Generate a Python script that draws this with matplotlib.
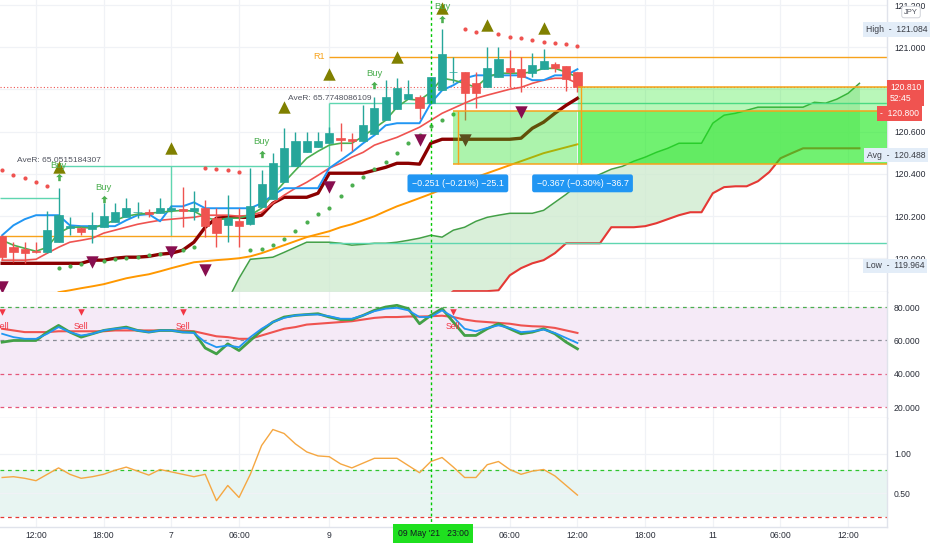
import matplotlib
matplotlib.use('Agg')
import matplotlib.pyplot as plt
import numpy as np
from matplotlib.patches import Rectangle
from matplotlib.transforms import blended_transform_factory as btf

plt.rcParams['font.family'] = ['Liberation Sans', 'DejaVu Sans']

# ---------------- data ----------------
bar_idx = list(range(-3, 49))
open_ = [120.104, 120.052, 120.043, 120.033, 120.028, 120.076, 120.142, 120.142, 120.137, 120.147,
         120.171, 120.194, 120.218, 120.218, 120.213, 120.227, 120.232, 120.223, 120.237, 120.190,
         120.156, 120.175, 120.161, 120.242, 120.280, 120.360, 120.436, 120.502, 120.526, 120.545,
         120.569, 120.564, 120.555, 120.588, 120.654, 120.706, 120.754, 120.763, 120.735, 120.796,
         120.882, 120.882, 120.829, 120.810, 120.858, 120.900, 120.896, 120.877, 120.896, 120.919,
         120.910, 120.882]
high = [120.110, 120.076, 120.076, 120.076, 120.223, 120.332, 120.194, 120.147, 120.218, 120.261,
        120.261, 120.284, 120.265, 120.232, 120.284, 120.250, 120.337, 120.318, 120.275, 120.237,
        120.299, 120.237, 120.427, 120.417, 120.498, 120.616, 120.597, 120.597, 120.597, 120.621,
        120.640, 120.592, 120.725, 120.763, 120.844, 120.853, 120.844, 120.773, 120.860, 121.085,
        120.953, 120.885, 120.882, 121.000, 121.000, 120.986, 120.953, 120.972, 120.990, 120.929,
        120.910, 120.882]
low = [119.991, 119.981, 119.976, 120.024, 120.024, 120.076, 120.109, 120.109, 120.071, 120.147,
       120.171, 120.194, 120.190, 120.194, 120.213, 120.220, 120.147, 120.180, 120.100, 120.052,
       120.076, 120.052, 120.156, 120.242, 120.280, 120.360, 120.436, 120.502, 120.526, 120.545,
       120.507, 120.507, 120.555, 120.588, 120.654, 120.706, 120.754, 120.659, 120.730, 120.796,
       120.829, 120.654, 120.711, 120.810, 120.858, 120.810, 120.787, 120.858, 120.896, 120.882,
       120.791, 120.787]
close = [120.005, 120.028, 120.024, 120.028, 120.133, 120.204, 120.152, 120.123, 120.156, 120.199,
         120.218, 120.237, 120.220, 120.209, 120.237, 120.237, 120.223, 120.237, 120.152, 120.119,
         120.190, 120.152, 120.246, 120.351, 120.450, 120.521, 120.555, 120.555, 120.555, 120.592,
         120.559, 120.555, 120.630, 120.711, 120.763, 120.806, 120.777, 120.711, 120.858, 120.967,
         120.884, 120.782, 120.782, 120.900, 120.943, 120.882, 120.858, 120.915, 120.934, 120.900,
         120.848, 120.810]

blue_line = [120.109, 120.156, 120.185, 120.204, 120.204, 120.204, 120.156, 120.152, 120.152, 120.152,
             120.152, 120.180, 120.204, 120.209, 120.175, 120.246, 120.246, 120.265, 120.237, 120.237,
             120.237, 120.237, 120.237, 120.261, 120.299, 120.332, 120.332, 120.332, 120.332, 120.427,
             120.464, 120.502, 120.545, 120.583, 120.630, 120.640, 120.640, 120.640, 120.735, 120.796,
             120.820, 120.853, 120.867, 120.867, 120.867, 120.867, 120.867, 120.844, 120.844, 120.867,
             120.867, 120.896]
red_line = [119.991, 119.991, 119.991, 119.995, 120.024, 120.052, 120.076, 120.085, 120.095, 120.119,
            120.133, 120.147, 120.161, 120.171, 120.180, 120.185, 120.190, 120.194, 120.204, 120.204,
            120.204, 120.199, 120.204, 120.218, 120.261, 120.299, 120.332, 120.360, 120.393, 120.427,
            120.450, 120.479, 120.502, 120.536, 120.555, 120.573, 120.597, 120.621, 120.654, 120.687,
            120.711, 120.735, 120.758, 120.773, 120.787, 120.801, 120.810, 120.829, 120.844, 120.853,
            120.853, 120.829]
green_line = [120.085, 120.062, 120.047, 120.033, 120.052, 120.119, 120.147, 120.147, 120.142, 120.161,
              120.180, 120.199, 120.209, 120.213, 120.218, 120.223, 120.227, 120.223, 120.194, 120.180,
              120.190, 120.190, 120.204, 120.237, 120.299, 120.360, 120.417, 120.474, 120.507, 120.536,
              120.545, 120.545, 120.578, 120.616, 120.654, 120.716, 120.754, 120.749, 120.787, 120.853,
              120.844, 120.829, 120.810, 120.858, 120.877, 120.877, 120.877, 120.882, 120.900, 120.900,
              120.882, 120.858]
base_line = [119.976] * 8 + [119.991, 119.991, 120.000, 120.005, 120.005, 120.009, 120.019, 120.024,
             120.038, 120.076, 120.147, 120.190, 120.194, 120.194, 120.194, 120.204, 120.261, 120.289,
             120.289, 120.289, 120.308, 120.403, 120.403, 120.403, 120.403, 120.417, 120.431, 120.450,
             120.450, 120.446, 120.545, 120.564] + [120.564] * 6 + [120.569, 120.616, 120.645, 120.687,
             120.725, 120.758]
orange_idx = list(range(2, 49))
orange_line = [119.839, 119.848, 119.858, 119.867, 119.877, 119.891, 119.905, 119.915, 119.924, 119.938,
               119.953, 119.967, 119.981, 119.986, 119.991, 119.995, 120.000, 120.009, 120.024, 120.043,
               120.062, 120.081, 120.100, 120.114, 120.128, 120.147, 120.161, 120.180, 120.199, 120.223,
               120.246, 120.265, 120.285, 120.305, 120.327, 120.346, 120.365, 120.384, 120.403, 120.422,
               120.441, 120.460, 120.479, 120.498, 120.512, 120.526, 120.540]

cloud_idx = list(range(17, 74))
span_a = [119.800, 119.905, 119.995, 120.000, 120.005, 120.028, 120.052, 120.076, 120.076, 120.076,
          120.071, 120.062, 120.066, 120.071, 120.071, 120.076, 120.085, 120.095, 120.109, 120.100,
          120.133, 120.147, 120.175, 120.194, 120.204, 120.213, 120.213, 120.213, 120.227, 120.265,
          120.303, 120.346, 120.374, 120.398, 120.422, 120.436, 120.460, 120.479, 120.502, 120.521,
          120.545, 120.545, 120.545, 120.640, 120.678, 120.687, 120.701, 120.716, 120.716, 120.716,
          120.716, 120.716, 120.739, 120.735, 120.754, 120.782, 120.829]
span_b = [119.800] * 20 + [119.844] * 4 + [119.848, 119.919, 119.953, 119.976, 119.991, 120.024,
          120.071, 120.071, 120.071, 120.071, 120.147, 120.147, 120.147, 120.152, 120.166, 120.185,
          120.204, 120.218, 120.218, 120.308, 120.337, 120.341, 120.341, 120.365, 120.408, 120.474,
          120.498, 120.521] + [120.521] * 5

sar_red_idx = [-3, -2, -1, 0, 1, 15, 16, 17, 18, 38, 39, 41, 42, 43, 44, 45, 46, 47, 48]
sar_red = [120.417, 120.393, 120.379, 120.360, 120.341, 120.427, 120.422, 120.417, 120.408,
           121.085, 121.071, 121.062, 121.047, 121.043, 121.033, 121.024, 121.019, 121.014, 121.005]
sar_green_idx = list(range(2, 15)) + list(range(19, 38))
sar_green = [119.953, 119.962, 119.972, 119.976, 119.986, 119.995, 120.000, 120.005, 120.014, 120.019,
             120.028, 120.038, 120.052, 120.038, 120.043, 120.062, 120.090, 120.128, 120.171, 120.209,
             120.237, 120.294, 120.346, 120.384, 120.422, 120.455, 120.498, 120.545, 120.583, 120.626,
             120.654, 120.682]

up_tri_idx = [2, 12, 22, 26, 32, 36, 40, 45]
up_tri_val = [120.431, 120.521, 120.716, 120.872, 120.953, 121.185, 121.104, 121.090]
dn_tri_idx = [-3, 5, 12, 15, 26, 34, 43]
dn_tri_val = [119.863, 119.981, 120.028, 119.943, 120.337, 120.559, 120.692]
dn_olive_idx = [38]
dn_olive_val = [120.559]
buy_idx = [2, 6, 20, 30, 36]
buy_text_val = [120.441, 120.337, 120.555, 120.877, 121.194]
buy_arrow_val = [120.384, 120.280, 120.493, 120.820, 121.133]

# oscillator panel
osc_green = [59, 60, 60, 60, 65, 69, 65, 62, 64, 66, 67, 68, 66, 65, 66, 66, 65, 65, 55.5, 52,
             58, 54, 60, 66, 71, 74, 75, 75.5, 76, 74, 72.5, 72.5, 75, 78, 80, 81, 79, 70, 75, 79,
             71, 63, 63, 67, 70, 67, 64, 65, 67, 64, 59, 55]
osc_blue = [64, 62, 61, 61, 64, 68, 65, 63, 64, 66, 67, 67.5, 66, 65, 66, 66, 65, 64.5, 59, 56,
            57, 56, 62, 67, 71, 73.5, 75, 75.5, 75.5, 74.5, 73, 73, 75, 77.5, 79, 79.5, 78, 74, 74, 78,
            74, 67, 65.5, 67.5, 69, 67.5, 65, 65.5, 66.5, 64.5, 61.5, 58.5]
osc_red = [67, 66, 65, 65, 65, 65.5, 65.5, 65.5, 65.5, 65.5, 66, 66, 66, 66, 66, 66, 66, 65.5, 64, 62.5,
           62, 61, 61, 63, 65, 67, 68, 69.5, 70, 70.5, 71, 71.5, 72.5, 73.5, 74, 74, 74.3, 74.3, 74.5, 74.8,
           74, 72.5, 71.5, 71, 70.5, 70, 69, 68.5, 68.3, 67.5, 66, 64.5]
sell_idx = [-3, 4, 13, 37]
sell_tri_val = 77
sell_text_val = 68.5

# lower panel
vol_line = [0.70, 0.71, 0.69, 0.66, 0.74, 0.82, 0.74, 0.69, 0.71, 0.74, 0.79, 0.83, 0.78, 0.73, 0.80,
            0.77, 0.74, 0.71, 0.74, 0.41, 0.60, 0.45, 0.74, 1.10, 1.30, 1.25, 1.12, 1.02, 0.97, 0.96,
            0.87, 0.82, 0.88, 0.94, 0.94, 0.94, 0.85, 0.76, 0.90, 0.95, 0.83, 0.70, 0.70, 0.86, 0.90,
            0.80, 0.74, 0.78, 0.80, 0.72, 0.60, 0.48]

time_tick_idx = [0, 6, 12, 18, 26, 42, 48, 54, 60, 66, 72]
time_tick_lbl = ['12:00', '18:00', '7', '06:00', '9', '06:00', '12:00', '18:00', '11', '06:00', '12:00']
cursor_idx = 35
cursor_lbl = "09 May '21   23:00"

price_ticks = [120.0, 120.2, 120.4, 120.6, 120.8, 121.0, 121.2]
last_price = 120.810
high_val, low_val, avg_val = 121.084, 119.964, 120.488
entry_level, stop_level, target_level = 120.698, 120.445, 120.810
r1_level = 120.955
aver_levels = [120.284, 120.436, 120.735, 120.071]
orange_old_level = 120.104

# ---------------- layout ----------------
W, H = 932, 550
fig = plt.figure(figsize=(W / 100, H / 100), dpi=100)
RX = 887


def rect(x0, y0, x1, y1):
    return [x0 / W, 1 - y1 / H, (x1 - x0) / W, (y1 - y0) / H]


ax1 = fig.add_axes(rect(0, 0, RX, 292))
ax2 = fig.add_axes(rect(0, 292, RX, 418), sharex=ax1)
ax3 = fig.add_axes(rect(0, 418, RX, 527), sharex=ax1)

x_left = -36 / 11.28
x_right = (RX - 36) / 11.28
ax1.set_xlim(x_left, x_right)
ax1.set_ylim(119.840, 121.224)
ax2.set_ylim(13.7, 88.96)
ax3.set_ylim(0.081, 1.444)

sep = '#e0e3eb'
grid = '#f0f2f6'
for ax in (ax1, ax2, ax3):
    for s in ('left', 'top'):
        ax.spines[s].set_visible(False)
    for s in ('right', 'bottom'):
        ax.spines[s].set_color(sep)
        ax.spines[s].set_linewidth(1)
    ax.yaxis.tick_right()
    ax.tick_params(axis='both', length=0, labelsize=6.2, colors='#2a2e39', pad=5)
    ax.set_xticks(time_tick_idx)
    for t in time_tick_idx:
        ax.axvline(t, color=grid, lw=0.9, zorder=0)
ax1.tick_params(axis='x', labelbottom=False)
ax2.tick_params(axis='x', labelbottom=False)
ax3.set_xticklabels(time_tick_lbl)
ax3.tick_params(axis='x', pad=3)

# price axis
ax1.set_yticks(price_ticks)
ax1.set_yticklabels(['%.3f' % p if abs(p - 120.8) > 1e-6 else '' for p in price_ticks])
for p in price_ticks:
    ax1.axhline(p, color=grid, lw=0.9, zorder=0)

# ---------------- main panel ----------------
ax1.fill_between(cloud_idx, span_a, span_b, color='#cdeacd', alpha=0.75, lw=0, zorder=1)
ax1.plot(cloud_idx, span_a, color='#43a047', lw=1.1, zorder=2)
ax1.plot(cloud_idx, span_b, color='#e53935', lw=1.5, zorder=2)

teal = '#5fd6b0'
orange = '#f7a21b'
ax1.hlines(aver_levels[0], x_left, 2, color=teal, lw=1, zorder=2)
ax1.hlines(aver_levels[1], 2, 26, color=teal, lw=1, zorder=2)
ax1.vlines(12, orange_old_level, aver_levels[1], color=teal, lw=1, zorder=2)
ax1.vlines(26, aver_levels[1], aver_levels[2], color=teal, lw=1, zorder=2)
ax1.hlines(aver_levels[2], 26, x_right, color=teal, lw=1, zorder=2)
ax1.hlines(aver_levels[3], 26, x_right, color=teal, lw=1, zorder=2)
ax1.hlines(orange_old_level, x_left, 26, color=orange, lw=1, zorder=2)
ax1.hlines(r1_level, 26, x_right, color=orange, lw=1, zorder=2)
ax1.text(25.6, r1_level, 'R1', color=orange, fontsize=6.5, ha='right', va='center', zorder=6)
ax1.axhline(last_price, color='#ef5350', lw=0.8, ls=(0, (1, 2)), zorder=2)

ax1.plot(orange_idx, orange_line, color='#ff9800', lw=1.4, zorder=3)
ax1.plot(bar_idx, base_line, color='#8b0000', lw=2.4, zorder=3)
ax1.plot(bar_idx, red_line, color='#ef5350', lw=1.2, zorder=3)
ax1.plot(bar_idx, blue_line, color='#2196f3', lw=1.4, zorder=3)
ax1.plot(bar_idx, green_line, color='#4caf50', lw=1.2, zorder=3)

up_c, dn_c = '#26a69a', '#ef5350'
for i, o, h, l, c in zip(bar_idx, open_, high, low, close):
    col = up_c if c >= o else dn_c
    ax1.vlines(i, l, h, color=col, lw=1, zorder=4)
    ax1.add_patch(Rectangle((i - 0.36, min(o, c)), 0.72, max(abs(c - o), 0.003),
                            fc=col, ec=col, lw=0.5, zorder=4))

ax1.scatter(sar_red_idx, sar_red, s=9, color='#ef5350', zorder=5, lw=0)
ax1.scatter(sar_green_idx, sar_green, s=9, color='#4caf50', zorder=5, lw=0)

# position boxes
box_l1, box_r1 = 37, 48
ax1.add_patch(Rectangle((box_l1, stop_level), box_r1 - box_l1, entry_level - stop_level,
                        fc=(0.1, 0.88, 0.1, 0.36), ec='none', zorder=5))
ax1.add_patch(Rectangle((48.05, stop_level), x_right - 48.05, target_level - stop_level,
                        fc=(0.1, 0.9, 0.1, 0.30), ec='none', zorder=5))
ax1.add_patch(Rectangle((48.05, stop_level), x_right - 48.05, entry_level - stop_level,
                        fc=(0.1, 0.92, 0.1, 0.45), ec='none', zorder=5))
ax1.hlines([entry_level, stop_level], box_l1, x_right, color=orange, lw=1.1, zorder=6)
ax1.hlines(target_level, 48.05, x_right, color=orange, lw=1.1, zorder=6)
ax1.vlines(37.4, stop_level, entry_level, color=orange, lw=1, zorder=6)
ax1.vlines(48.3, stop_level, target_level, color=orange, lw=1, zorder=6)

# markers
ax1.scatter(up_tri_idx, up_tri_val, marker='^', s=80, color='#808000', zorder=7, lw=0)
ax1.scatter(dn_tri_idx, dn_tri_val, marker='v', s=80, color='#880e4f', zorder=7, lw=0)
ax1.scatter(dn_olive_idx, dn_olive_val, marker='v', s=80, color='#5b4f1e', zorder=7, lw=0)
arrow = [(0, 1), (-0.9, 0.1), (-0.35, 0.1), (-0.35, -1), (0.35, -1), (0.35, 0.1), (0.9, 0.1), (0, 1)]
ax1.scatter(buy_idx, buy_arrow_val, marker=arrow, s=28, color='#4caf50', zorder=7, lw=0)
for i, v in zip(buy_idx, buy_text_val):
    ax1.text(i, v, 'Buy', color='#4caf50', fontsize=6.8, ha='center', va='center', zorder=7)

ax1.text(-1.7, 120.464, 'AveR: 65.0515184307', color='#50535e', fontsize=6.0, ha='left',
         va='center', zorder=8)
ax1.text(22.3, 120.758, 'AveR: 65.7748086109', color='#50535e', fontsize=6.0, ha='left',
         va='center', zorder=8)

for xi, txt in ((37.4, '\u22120.251 (\u22120.21%) \u221225.1'), (48.45, '\u22120.367 (\u22120.30%) \u221236.7')):
    ax1.text(xi, 120.355, txt, color='white', fontsize=6.4, ha='center', va='center', zorder=9,
             bbox=dict(boxstyle='round,pad=0.5,rounding_size=0.25', fc='#2196f3', ec='none'))

# cursor line
for ax in (ax1, ax2, ax3):
    ax.axvline(cursor_idx, color='#00c800', lw=1, ls=(0, (2, 2)), zorder=8)

# right-axis labels
tr = btf(ax1.transAxes, ax1.transData)


def side_label(y, txt, xpx, fc, tc, ha='left', fs=6.2, ec='none', pad=0.3):
    ax1.text(xpx / RX, y, txt, transform=tr, ha=ha, va='center', fontsize=fs, color=tc,
             bbox=dict(boxstyle='square,pad=%s' % pad, fc=fc, ec=ec), clip_on=False, zorder=20)


side_label(high_val, 'High  -  121.084', 866, '#e3edf8', '#3a3d45')
side_label(avg_val, 'Avg  -  120.488', 867, '#e3edf8', '#3a3d45')
side_label(low_val, 'Low  -  119.964', 866, '#e3edf8', '#3a3d45')
ax1.text(890 / RX, last_price - 0.027, '120.810\n52:45', transform=tr, ha='left', va='center',
         fontsize=6.2, color='white', linespacing=1.25,
         bbox=dict(boxstyle='square,pad=0.35', fc='#f05350', ec='none'), clip_on=False, zorder=20)
side_label(120.687, '-  120.800', 880, '#f05350', 'white', pad=0.35)
ax1.text(911 / RX, 121.167, 'JPY', transform=tr, ha='center', va='center', fontsize=5.5,
         color='#50535e', bbox=dict(boxstyle='round,pad=0.3', fc='white', ec='#c8cbd3', lw=0.6),
         clip_on=False, zorder=20)

# ---------------- oscillator panel ----------------
ax2.axhspan(20, 80, color='#f5eaf7', zorder=0.5, lw=0)
ax2.axhline(80, color='#4caf50', lw=0.9, ls=(0, (3, 3)), zorder=1)
ax2.axhline(60, color='#8a8d96', lw=0.9, ls=(0, (3, 3)), zorder=1)
ax2.axhline(40, color='#e5577a', lw=0.9, ls=(0, (3, 3)), zorder=1)
ax2.axhline(20, color='#e5577a', lw=0.9, ls=(0, (3, 3)), zorder=1)
ax2.plot(bar_idx, osc_red, color='#ef5350', lw=1.5, zorder=3)
ax2.plot(bar_idx, osc_green, color='#43a047', lw=2.0, zorder=3)
ax2.plot(bar_idx, osc_blue, color='#2196f3', lw=1.3, zorder=4)
ax2.scatter(sell_idx, [sell_tri_val] * len(sell_idx), marker='v', s=22, color='#f23645', zorder=5, lw=0)
for i in sell_idx:
    ax2.text(i, sell_text_val, 'Sell', color='#f23645', fontsize=6.3, ha='center', va='center', zorder=5)
ax2.set_yticks([20, 40, 60, 80])
ax2.set_yticklabels(['20.000', '40.000', '60.000', '80.000'])

# ---------------- lower panel ----------------
ax3.axhspan(0.2, 0.8, color='#e8f5f2', zorder=0.5, lw=0)
ax3.axhline(0.8, color='#2ec52e', lw=0.9, ls=(0, (3, 3)), zorder=1)
ax3.axhline(0.2, color='#e53935', lw=0.9, ls=(0, (3, 3)), zorder=1)
for v in (0.5, 1.0):
    ax3.axhline(v, color=grid, lw=0.9, zorder=0.6)
ax3.plot(bar_idx, vol_line, color='#f5a742', lw=1.0, zorder=3)
ax3.set_yticks([0.5, 1.0])
ax3.set_yticklabels(['0.50', '1.00'])

ax3.text(cursor_idx + 0.2, -0.02, cursor_lbl, transform=btf(ax3.transData, ax3.transAxes),
         ha='center', va='top', fontsize=6.2, color='#131722', zorder=20, clip_on=False,
         bbox=dict(boxstyle='square,pad=0.55', fc='#1fe01f', ec='none'))

fig.savefig('out.png', dpi=100, facecolor='white')
